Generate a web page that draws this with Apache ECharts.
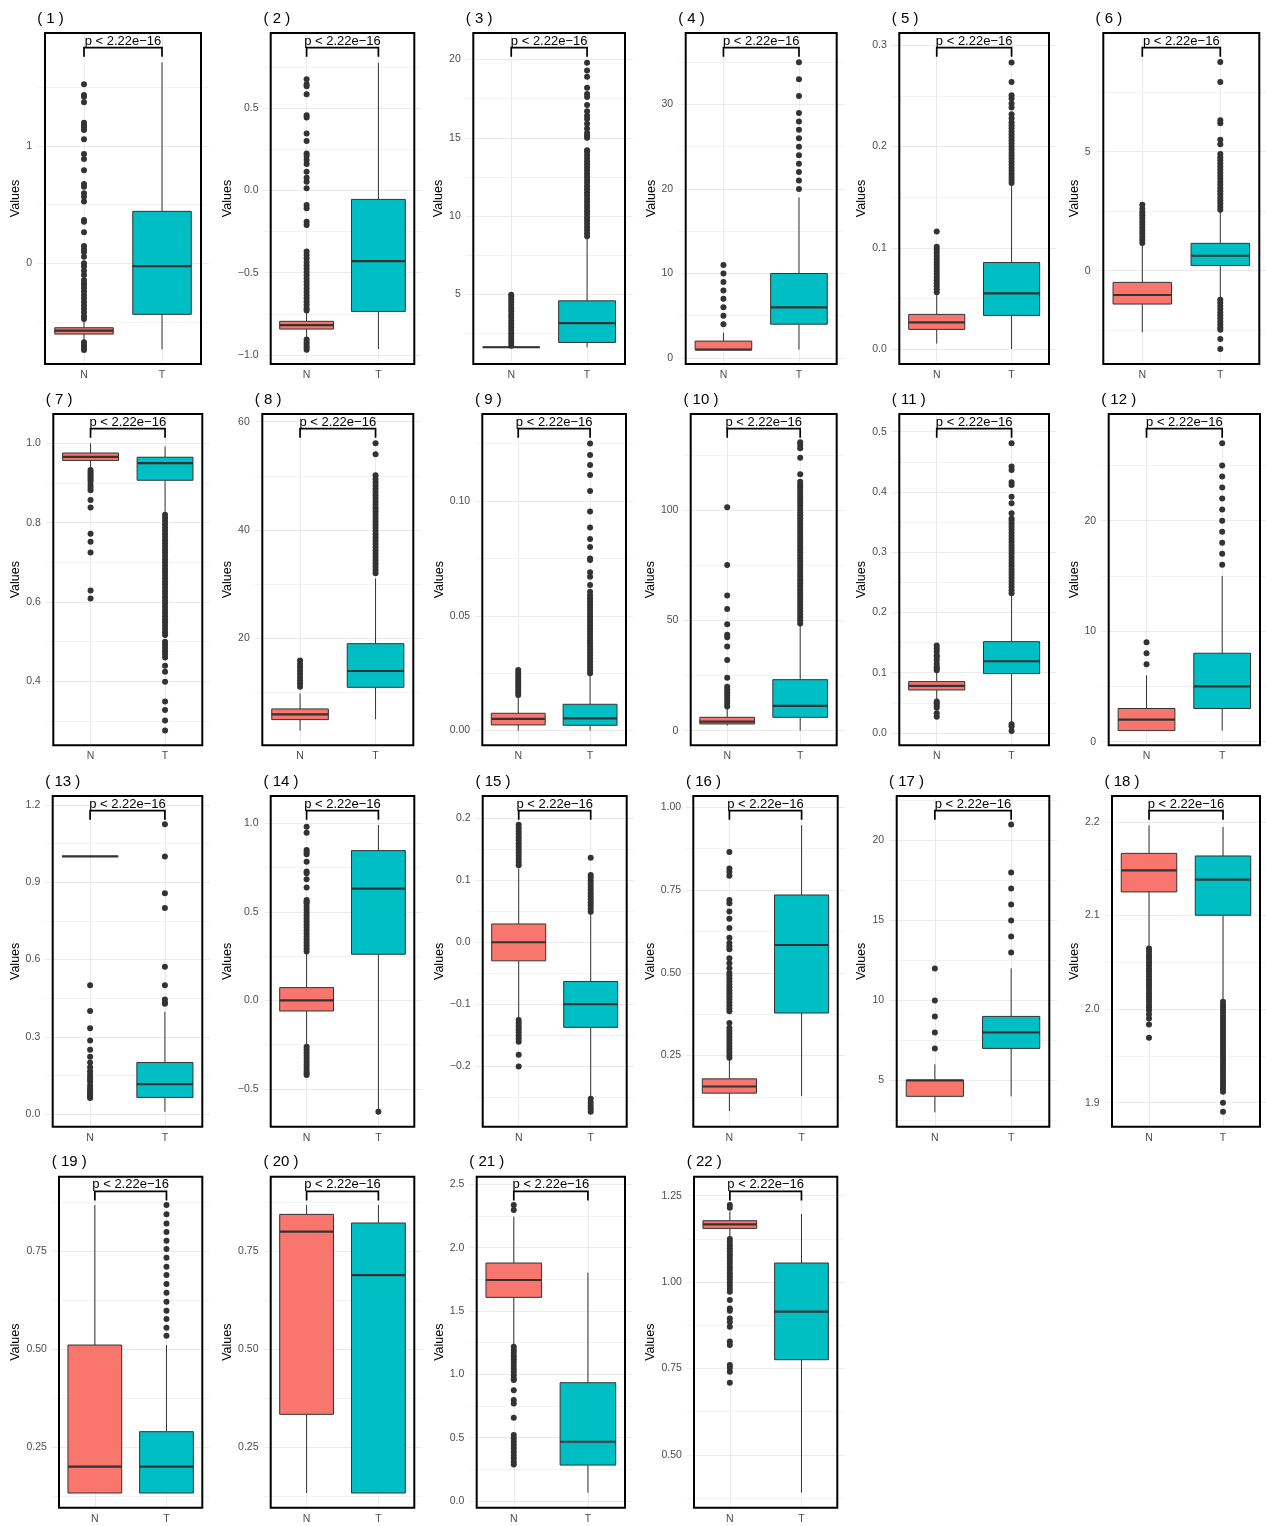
<!DOCTYPE html>
<html>
<head>
<meta charset="utf-8">
<script src="https://cdn.jsdelivr.net/npm/echarts@6/dist/echarts.min.js"></script>
<style>
html, body { margin: 0; padding: 0; background: #ffffff; }
#chart { width: 1266px; height: 1526px; }
</style>
</head>
<body>
<div id="chart"></div>
<script>
// ---------- data ----------
const categories = ['N', 'T'];
const pLabel = 'p < 2.22e\u221216';
const panelTitles = ['( 1 )', '( 2 )', '( 3 )', '( 4 )', '( 5 )', '( 6 )', '( 7 )', '( 8 )', '( 9 )', '( 10 )', '( 11 )',
  '( 12 )', '( 13 )', '( 14 )', '( 15 )', '( 16 )', '( 17 )', '( 18 )', '( 19 )', '( 20 )', '( 21 )', '( 22 )'];

// five-number summaries: [lower whisker, Q1, median, Q3, upper whisker]
const boxN = [
  [-0.655, -0.603, -0.574, -0.549, -0.48],
  [-0.896, -0.842, -0.818, -0.795, -0.735],
  [1.58, 1.59, 1.6, 1.61, 1.63],
  [1, 1, 1, 2, 3],
  [0.0053, 0.0194, 0.0263, 0.0342, 0.0536],
  [-2.59, -1.40, -1.02, -0.49, 1.09],
  [0.937, 0.957, 0.966, 0.9756, 1.0],
  [2.88, 4.92, 5.9, 6.89, 9.78],
  [0.0, 0.00247, 0.00508, 0.00755, 0.0148],
  [2.27, 3.02, 4.08, 6.04, 10.1],
  [0.0548, 0.0713, 0.078, 0.0852, 0.1018],
  [1, 1, 2, 3, 6],
  [1, 1, 1, 1, 1],
  [-0.2524, -0.0603, 0.0, 0.0716, 0.2655],
  [-0.122, -0.0299, 0.0, 0.0294, 0.1187],
  [0.0823, 0.1365, 0.1566, 0.1797, 0.238],
  [3, 4, 5, 5, 6],
  [2.0665, 2.1253, 2.1484, 2.1665, 2.1964],
  [0.1335, 0.1335, 0.2007, 0.511, 0.868],
  [0.1335, 0.3342, 0.8002, 0.8444, 0.868],
  [1.232, 1.608, 1.745, 1.879, 2.245],
  [1.1314, 1.1555, 1.167, 1.1777, 1.2037]
];
const boxT = [
  [-0.733, -0.435, -0.023, 0.443, 1.713],
  [-0.963, -0.735, -0.43, -0.055, 0.775],
  [1.6, 1.91, 3.15, 4.57, 8.57],
  [1, 4, 6, 10, 19],
  [0.0, 0.0332, 0.0549, 0.0854, 0.162],
  [-1.15, 0.22, 0.63, 1.15, 2.49],
  [0.824, 0.907, 0.95, 0.965, 0.992],
  [4.98, 10.89, 13.91, 18.96, 31.04],
  [0.0, 0.00232, 0.00537, 0.01147, 0.0242],
  [0, 6.04, 11.2, 23.1, 48.2],
  [0.016, 0.0985, 0.119, 0.1515, 0.229],
  [1, 3, 5, 8, 15],
  [0.009, 0.0647, 0.1165, 0.2, 0.397],
  [-0.618, 0.26, 0.631, 0.8456, 0.99],
  [-0.25, -0.1369, -0.0995, -0.0631, 0.0465],
  [0.1275, 0.3785, 0.584, 0.735, 0.946],
  [4, 7, 8, 9, 12],
  [2.0096, 2.1004, 2.1384, 2.1637, 2.1947],
  [0.1335, 0.1335, 0.2007, 0.29, 0.511],
  [0.1335, 0.1335, 0.6896, 0.8223, 0.868],
  [0.0658, 0.284, 0.468, 0.934, 1.803],
  [0.3908, 0.7756, 0.9144, 1.0552, 1.197]
];

// points beyond the whiskers
const outliersN = [
  [1.526, 1.435, 1.42, 1.372, 1.199, 1.179, 1.159, 1.136, 1.057, 0.932, 0.889, 0.793, 0.676, 0.653, 0.597, 0.568, 0.526,
   0.369, 0.355, 0.264, 0.148, 0.119, 0.097, 0.057, 0.0, -0.028, -0.063, -0.099, -0.142, -0.165, -0.185, -0.21, -0.24,
   -0.27, -0.30, -0.33, -0.36, -0.39, -0.42, -0.45, -0.475, -0.673, -0.696, -0.716, -0.739],
  [0.674, 0.644, 0.632, 0.583, 0.456, 0.442, 0.345, 0.299, 0.224, 0.208, 0.184, 0.16, 0.113, 0.077, 0.052, 0.012, -0.089,
   -0.109, -0.19, -0.21, -0.371, -0.392, -0.412, -0.435, -0.455, -0.475, -0.495, -0.515, -0.535, -0.555, -0.575, -0.595,
   -0.615, -0.635, -0.655, -0.675, -0.695, -0.715, -0.73, -0.906, -0.922, -0.937, -0.952, -0.967],
  [1.7, 1.9, 2.1, 2.3, 2.5, 2.7, 2.9, 3.1, 3.3, 3.5, 3.7, 3.9, 4.1, 4.3, 4.5, 4.65, 4.85, 4.96],
  [4, 5, 6, 7, 8, 9, 10, 11],
  [0.056, 0.059, 0.062, 0.065, 0.068, 0.071, 0.074, 0.077, 0.080, 0.083, 0.086, 0.089, 0.092, 0.095, 0.098, 0.101, 0.116],
  [1.16, 1.29, 1.42, 1.55, 1.68, 1.81, 1.94, 2.07, 2.2, 2.33, 2.46, 2.6, 2.77],
  [0.933, 0.928, 0.923, 0.918, 0.913, 0.908, 0.903, 0.895, 0.888, 0.882, 0.857, 0.838, 0.772, 0.752, 0.725, 0.629, 0.609],
  [11.0, 11.6, 12.2, 12.8, 13.4, 14.0, 14.6, 15.2, 15.85],
  [0.0155, 0.0167, 0.0179, 0.0191, 0.0203, 0.0215, 0.0227, 0.0239, 0.0251, 0.0264],
  [10.9, 12.2, 13.5, 14.8, 16.1, 17.4, 18.7, 19.9, 24.0, 32.0, 38.1, 42.3, 43.4, 48.2, 55.1, 61.2, 75.1, 101.2],
  [0.104, 0.107, 0.11, 0.115, 0.121, 0.126, 0.129, 0.135, 0.1405, 0.145, 0.052, 0.0492, 0.0465, 0.042, 0.0326, 0.027],
  [7, 8, 9],
  [0.5, 0.4, 0.3333, 0.2857, 0.25, 0.2222, 0.2, 0.1818, 0.1667, 0.1538, 0.1429, 0.1333, 0.125, 0.1111, 0.1, 0.0909,
   0.0833, 0.0769, 0.0714, 0.0667, 0.0625],
  [0.981, 0.947, 0.849, 0.837, 0.825, 0.783, 0.727, 0.7175, 0.684, 0.6365, 0.567, 0.557, 0.548, 0.53, 0.513, 0.496, 0.479,
   0.462, 0.445, 0.428, 0.411, 0.394, 0.377, 0.36, 0.343, 0.326, 0.309, 0.292, 0.275, -0.262, -0.279, -0.296, -0.313,
   -0.33, -0.347, -0.364, -0.381, -0.398, -0.412, -0.422],
  [0.124, 0.129, 0.134, 0.139, 0.144, 0.149, 0.154, 0.159, 0.164, 0.169, 0.174, 0.179, 0.184, 0.189, -0.125, -0.13,
   -0.135, -0.14, -0.145, -0.15, -0.155, -0.16, -0.181, -0.2],
  [0.243, 0.252, 0.261, 0.27, 0.279, 0.288, 0.297, 0.306, 0.315, 0.324, 0.333, 0.348, 0.384, 0.393, 0.402, 0.411, 0.42,
   0.429, 0.438, 0.447, 0.456, 0.465, 0.474, 0.483, 0.492, 0.499, 0.514, 0.529, 0.544, 0.571, 0.58, 0.59, 0.606, 0.635,
   0.663, 0.685, 0.71, 0.72, 0.793, 0.805, 0.815, 0.865],
  [7, 8, 9, 10, 12],
  [2.0648, 2.0618, 2.0588, 2.0558, 2.0528, 2.0498, 2.0468, 2.0438, 2.0408, 2.0378, 2.0348, 2.0318, 2.0288, 2.0258, 2.0228,
   2.0198, 2.0168, 2.0138, 2.0108, 2.0078, 2.0048, 2.0018, 1.9988, 1.9945, 1.99, 1.9836, 1.9694],
  [],
  [],
  [2.297, 2.337, 1.218, 1.193, 1.168, 1.143, 1.118, 1.093, 1.068, 1.043, 1.018, 0.993, 0.968, 0.955, 0.874, 0.797, 0.771,
   0.658, 0.521, 0.495, 0.468, 0.442, 0.416, 0.389, 0.363, 0.337, 0.311, 0.289],
  [1.215, 1.223, 1.125, 1.116, 1.107, 1.098, 1.089, 1.08, 1.071, 1.062, 1.053, 1.044, 1.035, 1.026, 1.017, 1.008, 0.999,
   0.99, 0.981, 0.972, 0.948, 0.924, 0.917, 0.895, 0.885, 0.871, 0.828, 0.818, 0.76, 0.752, 0.741, 0.709]
];
const outliersT = [
  [],
  [],
  [8.7, 8.9, 9.1, 9.3, 9.5, 9.7, 9.9, 10.1, 10.3, 10.5, 10.7, 10.9, 11.1, 11.3, 11.5, 11.7, 11.9, 12.1, 12.3, 12.5, 12.7,
   12.9, 13.1, 13.3, 13.5, 13.7, 13.9, 14.1, 14.2, 15.0, 15.15, 15.3, 15.6, 15.9, 16.2, 16.4, 16.7, 17.1, 17.6, 17.8,
   18.2, 18.9, 19.3, 19.8],
  [20, 21, 22, 23, 24, 25, 26, 27, 28, 29, 31, 33, 35],
  [0.164, 0.167, 0.170, 0.173, 0.176, 0.179, 0.182, 0.185, 0.188, 0.191, 0.194, 0.197, 0.200, 0.203, 0.206, 0.209, 0.212,
   0.215, 0.218, 0.221, 0.224, 0.228, 0.232, 0.2386, 0.2425, 0.2475, 0.2507, 0.2639, 0.283],
  [2.56, 2.69, 2.82, 2.95, 3.08, 3.21, 3.34, 3.47, 3.6, 3.73, 3.86, 3.99, 4.12, 4.25, 4.38, 4.51, 4.64, 4.77, 4.9, 5.32,
   5.5, 6.2, 6.32, 7.93, 8.77, -1.22, -1.35, -1.48, -1.61, -1.74, -1.87, -2.0, -2.13, -2.26, -2.39, -2.48, -2.87, -3.29],
  [0.82, 0.812, 0.804, 0.796, 0.788, 0.78, 0.772, 0.764, 0.756, 0.748, 0.74, 0.732, 0.724, 0.716, 0.708, 0.7, 0.692,
   0.684, 0.676, 0.668, 0.66, 0.652, 0.644, 0.636, 0.628, 0.62, 0.612, 0.604, 0.596, 0.588, 0.58, 0.572, 0.564, 0.556,
   0.548, 0.54, 0.532, 0.524, 0.517, 0.5, 0.492, 0.484, 0.476, 0.468, 0.46, 0.439, 0.424, 0.399, 0.349, 0.328, 0.301, 0.276],
  [31.97, 32.6, 33.2, 33.8, 34.4, 35.0, 35.6, 36.2, 36.8, 37.4, 38.0, 38.6, 39.2, 39.8, 40.4, 41.0, 41.6, 42.2, 42.8,
   43.4, 44.0, 44.6, 45.2, 45.8, 46.4, 47.0, 47.6, 48.2, 48.8, 49.4, 50.1, 54.0, 56.0],
  [0.025, 0.0263, 0.0276, 0.0289, 0.0302, 0.0315, 0.0328, 0.0341, 0.0354, 0.0367, 0.038, 0.0393, 0.0406, 0.0419, 0.0432,
   0.0445, 0.0458, 0.0471, 0.0484, 0.0497, 0.051, 0.0523, 0.0536, 0.0549, 0.0562, 0.0575, 0.0588, 0.0605, 0.0634, 0.067,
   0.069, 0.0743, 0.075, 0.08, 0.0835, 0.0885, 0.0954, 0.1044, 0.1113, 0.1157, 0.12, 0.1251],
  [48.6, 50.0, 51.4, 52.8, 54.2, 55.6, 57.0, 58.4, 59.8, 61.2, 62.6, 64.0, 65.4, 66.8, 68.2, 69.6, 71.0, 72.4, 73.8, 75.2,
   76.6, 78.0, 79.4, 80.8, 82.2, 83.6, 85.0, 86.4, 87.8, 89.2, 90.6, 92.0, 93.4, 94.8, 96.2, 97.6, 99.0, 100.4, 101.8,
   103.2, 104.6, 106.0, 107.4, 108.8, 110.2, 111.6, 112.8, 116.2, 123.7, 128.0, 129.5, 130.7],
  [0.232, 0.237, 0.242, 0.247, 0.252, 0.257, 0.262, 0.267, 0.272, 0.277, 0.282, 0.287, 0.292, 0.297, 0.302, 0.307, 0.312,
   0.317, 0.322, 0.327, 0.332, 0.337, 0.342, 0.347, 0.352, 0.356, 0.3645, 0.381, 0.392, 0.4115, 0.416, 0.4364, 0.442,
   0.4806, 0.0144, 0.0105, 0.0033],
  [16, 17, 18, 19, 20, 21, 22, 23, 24, 25, 27],
  [1.125, 1.0, 0.857, 0.8, 0.5714, 0.5, 0.4444, 0.4333, 0.4286],
  [-0.629],
  [0.049, 0.054, 0.059, 0.064, 0.069, 0.074, 0.079, 0.084, 0.089, 0.094, 0.099, 0.104, 0.108, 0.1358, -0.252, -0.258,
   -0.2636, -0.268, -0.2727],
  [],
  [13, 14, 15, 16, 17, 18, 21],
  [2.0078, 2.0048, 2.0018, 1.9988, 1.9958, 1.9928, 1.9898, 1.9868, 1.9838, 1.9808, 1.9778, 1.9748, 1.9718, 1.9688, 1.9658,
   1.9628, 1.9598, 1.9568, 1.9538, 1.9508, 1.9478, 1.9448, 1.9418, 1.9388, 1.9358, 1.9328, 1.9298, 1.9268, 1.9238,
   1.9208, 1.9178, 1.9148, 1.9118, 1.9, 1.8904],
  [0.5349, 0.5553, 0.5774, 0.5986, 0.6216, 0.6446, 0.6667, 0.6896, 0.7109, 0.7338, 0.756, 0.7772, 0.7993, 0.8214, 0.8444,
   0.8682],
  [],
  [],
  []
];

// value-axis ranges and tick values
const yRange = [
  [-0.858, 1.963], [-1.054, 0.955], [0.53, 21.70], [-0.71, 38.46], [-0.0148, 0.3122], [-3.92, 9.99],
  [0.2387, 1.074], [0.17, 61.42], [-0.0064, 0.1379], [-6.65, 143.5], [-0.0205, 0.5293], [-0.33, 29.65],
  [-0.049, 1.2346], [-0.714, 1.154], [-0.2968, 0.2353], [0.0351, 1.034], [2.1, 22.79], [1.8744, 2.2278],
  [0.096, 0.9405], [0.096, 0.9405], [-0.0526, 2.5605], [0.3474, 1.305]
];
const yTicks = [
  [0, 1], [-1, -0.5, 0, 0.5], [5, 10, 15, 20], [0, 10, 20, 30], [0, 0.1, 0.2, 0.3], [0, 5],
  [0.4, 0.6, 0.8, 1.0], [20, 40, 60], [0, 0.05, 0.10], [0, 50, 100], [0, 0.1, 0.2, 0.3, 0.4, 0.5], [0, 10, 20],
  [0, 0.3, 0.6, 0.9, 1.2], [-0.5, 0, 0.5, 1.0], [-0.2, -0.1, 0, 0.1, 0.2], [0.25, 0.5, 0.75, 1.0], [5, 10, 15, 20],
  [1.9, 2.0, 2.1, 2.2], [0.25, 0.5, 0.75], [0.25, 0.5, 0.75], [0, 0.5, 1.0, 1.5, 2.0, 2.5], [0.5, 0.75, 1.0, 1.25]
];
const yTickDigits = [0, 1, 0, 0, 1, 0, 1, 0, 2, 0, 1, 0, 1, 1, 1, 2, 0, 1, 2, 2, 1, 2];
const yMinorTicks = [
  [-0.5, 0.5, 1.5], [-0.75, -0.25, 0.25, 0.75], [2.5, 7.5, 12.5, 17.5], [5, 15, 25, 35], [0.05, 0.15, 0.25],
  [-2.5, 2.5, 7.5], [0.3, 0.5, 0.7, 0.9], [10, 30, 50], [0.025, 0.075, 0.125], [25, 75, 125],
  [0.05, 0.15, 0.25, 0.35, 0.45], [5, 15, 25], [0.15, 0.45, 0.75, 1.05], [-0.25, 0.25, 0.75],
  [-0.25, -0.15, -0.05, 0.05, 0.15], [0.125, 0.375, 0.625, 0.875], [2.5, 7.5, 12.5, 17.5, 22.5], [1.95, 2.05, 2.15],
  [0.125, 0.375, 0.625, 0.875], [0.125, 0.375, 0.625, 0.875], [0.25, 0.75, 1.25, 1.75, 2.25],
  [0.375, 0.625, 0.875, 1.125]
];

// ---------- layout: plot frame [left, top, right, bottom] and y-title gap per panel ----------
const frames = [
  [45, 33, 201, 364], [270.7, 33, 414.3, 364], [473.3, 33, 625, 364], [685.7, 33, 836.7, 364],
  [899.3, 33, 1049, 364], [1103.3, 33, 1259.3, 364],
  [53.3, 414, 202.3, 745.3], [262.3, 414, 413.3, 745.3], [482.3, 414, 626, 745.3], [690.7, 414, 836.7, 745.3],
  [899.3, 414, 1049, 745.3], [1108.7, 414, 1260, 745.3],
  [52.7, 796, 202.3, 1126.7], [270.7, 796, 414.3, 1126.7], [482.7, 796, 626.7, 1126.7], [693.3, 796, 837.7, 1126.7],
  [896.7, 796, 1049.3, 1126.7], [1112, 796, 1260, 1126.7],
  [59, 1176.7, 202.3, 1507.7], [270.7, 1176.7, 414.3, 1507.7], [476.7, 1176.7, 625, 1507.7], [694, 1176.7, 837.3, 1507.7]
];
const nameGaps = [22, 36, 27, 27.5, 29.5, 22, 30, 27.5, 36, 32.5, 29.5, 27, 29.5, 36, 36, 35, 27, 30.5, 36, 36, 30, 36];

// ---------- styles ----------
const FONT = '"Liberation Sans", Arial, Helvetica, sans-serif';
const GRID_COLOR = '#EBEBEB';
const OUTLINE = '#333333';
const FILLS = ['#F8766D', '#00BFC4'];
const TICK_COLOR = '#4D4D4D';

function fmtTick(v, d) {
  const s = Math.abs(v).toFixed(d);
  return (v < -1e-12 ? '\u2212' : '') + s;
}

// box, whiskers and a heavier median line for one group
function renderBox(params, api) {
  const xi = api.value(0);
  const band = api.size([1, 0])[0];
  const half = band * 0.375;
  const lo = api.coord([xi, api.value(1)]);
  const q1 = api.coord([xi, api.value(2)]);
  const md = api.coord([xi, api.value(3)]);
  const q3 = api.coord([xi, api.value(4)]);
  const hi = api.coord([xi, api.value(5)]);
  const cx = lo[0];
  const line = { stroke: OUTLINE, lineWidth: 1 };
  return {
    type: 'group',
    children: [
      { type: 'line', shape: { x1: cx, y1: q3[1], x2: cx, y2: hi[1] }, style: line },
      { type: 'line', shape: { x1: cx, y1: q1[1], x2: cx, y2: lo[1] }, style: line },
      { type: 'rect', shape: { x: cx - half, y: q3[1], width: 2 * half, height: q1[1] - q3[1] },
        style: { fill: FILLS[xi], stroke: OUTLINE, lineWidth: 1 } },
      { type: 'line', shape: { x1: cx - half, y1: md[1], x2: cx + half, y2: md[1] },
        style: { stroke: OUTLINE, lineWidth: 2.2 } }
    ]
  };
}

// significance bracket between the two groups, hung from the top of the plot frame
function renderBracket(params, api) {
  const a = api.coord([api.value(0), 0]);
  const b = api.coord([api.value(1), 0]);
  const top = params.coordSys.y;
  const yb = top + 14.7;
  const yt = yb + 9;
  return {
    type: 'group',
    children: [
      { type: 'polyline', shape: { points: [[a[0], yt], [a[0], yb], [b[0], yb], [b[0], yt]] },
        style: { stroke: '#000000', lineWidth: 1.7, fill: null } },
      { type: 'text', style: { text: pLabel, x: (a[0] + b[0]) / 2, y: top + 8.2, align: 'center',
        verticalAlign: 'middle', fill: '#000000', font: '13px ' + FONT } }
    ]
  };
}

const option = {
  animation: false,
  backgroundColor: '#ffffff',
  textStyle: { fontFamily: FONT },
  title: [], grid: [], xAxis: [], yAxis: [], series: []
};

panelTitles.forEach((title, i) => {
  const [L, T, R, B] = frames[i];
  const W = R - L, H = B - T, pad = 0.05 * W;
  const [ymin, ymax] = yRange[i];
  const digits = yTickDigits[i];

  option.title.push({
    text: title, left: L - pad, top: T - 22, padding: 0,
    textStyle: { fontSize: 15, fontWeight: 'normal', color: '#000000', fontFamily: FONT }
  });

  // background grid carrying the light grid lines (slightly wider than the frame)
  const gBg = option.grid.length;
  option.grid.push({ left: L - pad, top: T, width: W + 2 * pad, height: H, show: false,
    containLabel: false, outerBoundsMode: 'none' });
  // framed grid carrying the boxes, points and axis labels
  const gMain = option.grid.length;
  option.grid.push({ left: L, top: T, width: W, height: H, show: true, z: 1,
    backgroundColor: 'transparent', borderColor: '#000000', borderWidth: 2,
    containLabel: false, outerBoundsMode: 'none' });

  option.xAxis.push({
    gridIndex: gBg, type: 'value', min: 0.4, max: 2.6, z: 0,
    axisLine: { show: false }, axisTick: { show: false, customValues: [1, 2] }, axisLabel: { show: false },
    splitLine: { show: true, lineStyle: { color: GRID_COLOR, width: 1 } }
  });
  option.yAxis.push({
    gridIndex: gBg, type: 'value', min: ymin, max: ymax, z: 0,
    axisLine: { show: false }, axisTick: { show: false, customValues: yTicks[i] }, axisLabel: { show: false },
    splitLine: { show: true, lineStyle: { color: GRID_COLOR, width: 1 } }
  });
  option.yAxis.push({
    gridIndex: gBg, type: 'value', min: ymin, max: ymax, z: 0, position: 'right',
    axisLine: { show: false }, axisTick: { show: false, customValues: yMinorTicks[i] }, axisLabel: { show: false },
    splitLine: { show: true, lineStyle: { color: GRID_COLOR, width: 0.6 } }
  });

  const xMain = option.xAxis.length;
  option.xAxis.push({
    gridIndex: gMain, type: 'category', data: categories,
    axisLine: { show: false }, axisTick: { show: false }, splitLine: { show: false },
    axisLabel: { color: TICK_COLOR, fontSize: 10.5, margin: 5.5, fontFamily: FONT }
  });
  const yMain = option.yAxis.length;
  option.yAxis.push({
    gridIndex: gMain, type: 'value', min: ymin, max: ymax,
    name: 'Values', nameLocation: 'middle', nameGap: nameGaps[i],
    nameTextStyle: { fontSize: 12.5, color: '#000000', fontFamily: FONT },
    axisLine: { show: false }, axisTick: { show: false }, splitLine: { show: false },
    axisLabel: { customValues: yTicks[i], color: TICK_COLOR, fontSize: 10.5, margin: pad + 5, fontFamily: FONT,
      formatter: v => fmtTick(v, digits) }
  });

  option.series.push({
    type: 'custom', xAxisIndex: xMain, yAxisIndex: yMain, z: 3, silent: true,
    renderItem: renderBox,
    encode: { x: 0, y: [1, 2, 3, 4, 5] },
    data: [[0].concat(boxN[i]), [1].concat(boxT[i])]
  });
  option.series.push({
    type: 'scatter', xAxisIndex: xMain, yAxisIndex: yMain, z: 4, silent: true,
    symbol: 'circle', symbolSize: 6, itemStyle: { color: OUTLINE, opacity: 1 },
    data: outliersN[i].map(v => [categories[0], v]).concat(outliersT[i].map(v => [categories[1], v]))
  });
  option.series.push({
    type: 'custom', xAxisIndex: xMain, yAxisIndex: yMain, z: 5, silent: true,
    renderItem: renderBracket,
    encode: { x: [0, 1] },
    data: [[0, 1]]
  });
});

const chart = echarts.init(document.getElementById('chart'), null, { renderer: 'canvas' });
chart.setOption(option);
</script>
</body>
</html>
